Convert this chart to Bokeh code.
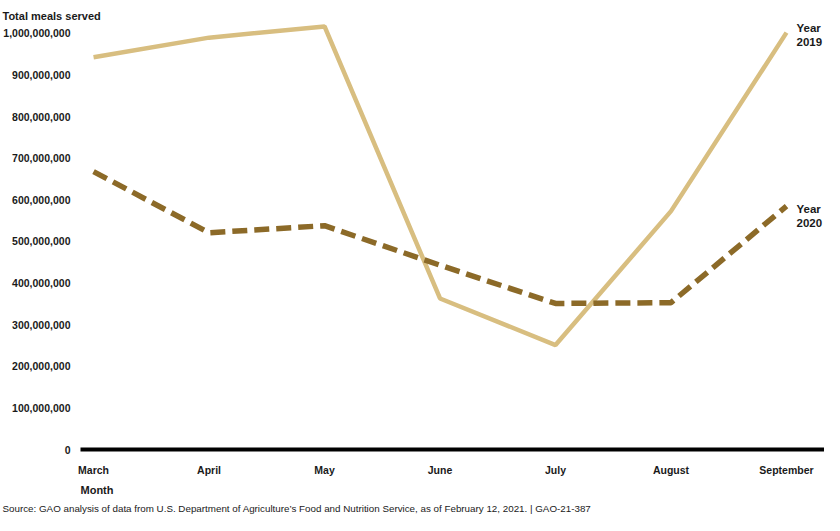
from bokeh.plotting import figure
from bokeh.models import FixedTicker, NumeralTickFormatter, Label, Range1d, Title
from bokeh.embed import file_html
from bokeh.resources import INLINE

months = ["March", "April", "May", "June", "July", "August", "September"]
meals_2019 = [943e6, 990e6, 1017e6, 363e6, 251e6, 573e6, 1002e6]
meals_2020 = [668e6, 521e6, 538e6, 443e6, 351e6, 353e6, 585e6]
y_ticks = [0, 1e8, 2e8, 3e8, 4e8, 5e8, 6e8, 7e8, 8e8, 9e8, 1e9]

FONT = "Liberation Sans"
C2019 = "#D8BE80"
C2020 = "#8C6A28"
TXT = "#1a1a1a"

x = list(range(len(months)))

p = figure(width=824, height=515, output_backend="svg", toolbar_location=None,
           x_range=Range1d(-0.113, 6.329), y_range=Range1d(0, 1.024e9),
           min_border_left=76, min_border_right=0, min_border_top=23, min_border_bottom=0)
p.outline_line_color = None
p.grid.visible = False
p.background_fill_color = "white"
p.border_fill_color = "white"

p.line(x, meals_2019, line_color=C2019, line_width=4.5)
p.line(x, meals_2020, line_color=C2020, line_width=5.5, line_dash="15 7")

# title (y axis caption)
p.title.text = "Total meals served"
p.title.align = "left"
p.title.offset = -78
p.title.text_font = FONT
p.title.text_font_size = "11px"
p.title.text_font_style = "bold"
p.title.text_color = TXT
p.title.standoff = 4

# x axis
xa = p.xaxis[0]
xa.ticker = FixedTicker(ticks=x)
xa.major_label_overrides = {i: m for i, m in enumerate(months)}
xa.axis_line_color = "black"
xa.axis_line_width = 4
xa.major_tick_line_color = None
xa.minor_tick_line_color = None
xa.major_label_standoff = 8
xa.major_label_text_font = FONT
xa.major_label_text_font_style = "bold"
xa.major_label_text_font_size = "10.5px"
xa.major_label_text_color = TXT

# y axis
ya = p.yaxis[0]
ya.ticker = FixedTicker(ticks=y_ticks)
ya.formatter = NumeralTickFormatter(format="0,0")
ya.axis_line_color = None
ya.major_tick_line_color = None
ya.minor_tick_line_color = None
ya.major_label_standoff = 4
ya.major_label_text_font = FONT
ya.major_label_text_font_style = "bold"
ya.major_label_text_font_size = "10.5px"
ya.major_label_text_color = TXT

p.add_layout(Title(text="Month", align="left", offset=0, standoff=6,
                   text_font=FONT, text_font_size="11px", text_font_style="bold",
                   text_color=TXT), "below")
p.add_layout(Title(text="Source: GAO analysis of data from U.S. Department of Agriculture\u2019s Food and Nutrition Service, as of February 12, 2021.  |  GAO-21-387",
                   align="left", offset=-78, standoff=4,
                   text_font=FONT, text_font_size="9.8px", text_font_style="normal",
                   text_color=TXT), "below")

def lab(text, xx, yy):
    p.add_layout(Label(text=text, x=xx, y=yy, x_units="data", y_units="data",
                       x_offset=10,
                       text_font=FONT, text_font_size="11.5px",
                       text_font_style="bold",
                       text_color=TXT, text_align="left", text_baseline="middle"))

lab("Year", 6, 1012e6)
lab("2019", 6, 979e6)
lab("Year", 6, 578e6)
lab("2020", 6, 545e6)

open("out.html", "w").write(file_html(p, INLINE))
